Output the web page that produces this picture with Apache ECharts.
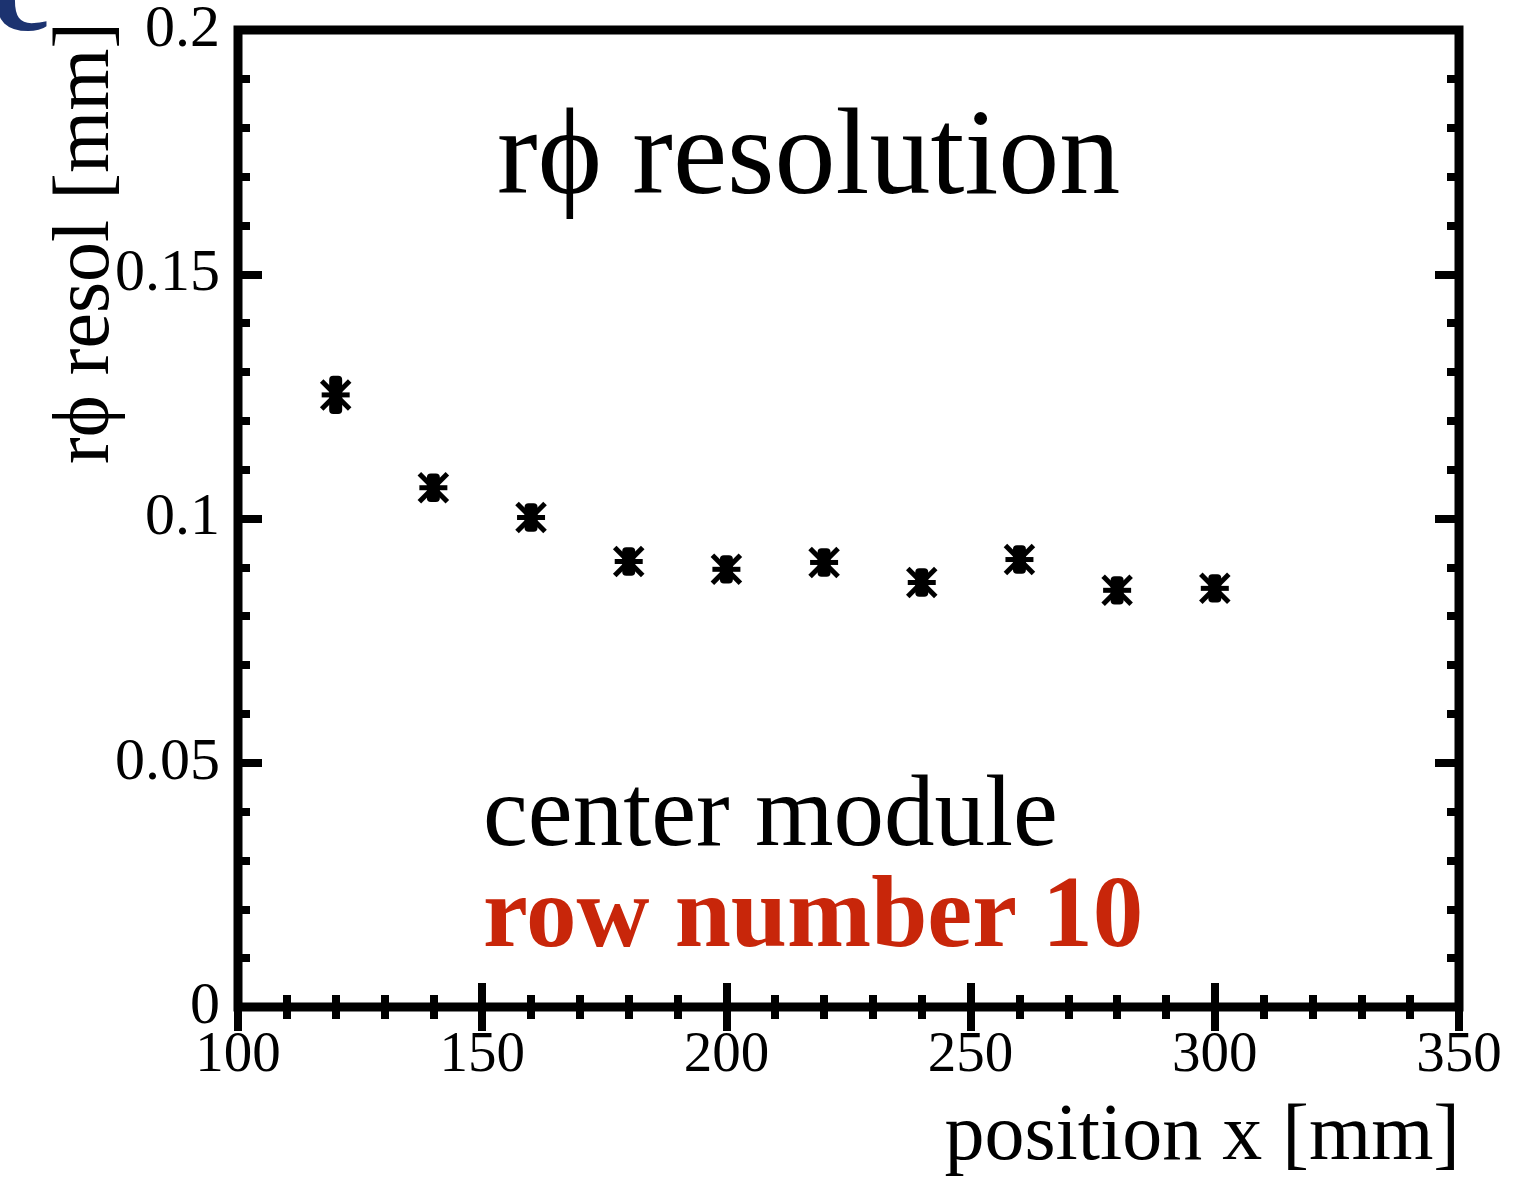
<!DOCTYPE html>
<html lang="en">
<head>
    <meta charset="UTF-8">
    <title>r-phi resolution</title>
</head>
<body style="margin:0;background:#fff">
<div id='main' style="height: 1181px;width: 1536px"></div>
<script src="https://cdn.jsdelivr.net/npm/echarts@6/dist/echarts.min.js"></script>
<script>
    // positions along x [mm]
    var xPos = [120, 140, 160, 180, 200, 220, 240, 260, 280, 300];
    // r-phi resolution [mm]
    var resol = [0.1253, 0.1063, 0.1002, 0.0912, 0.0896, 0.0910, 0.0869, 0.0916, 0.0853, 0.0857];
    var resolErr = [0.0039, 0.0029, 0.0029, 0.0029, 0.0029, 0.0029, 0.0029, 0.0029, 0.0029, 0.0029];
    var xTicks = [100, 150, 200, 250, 300, 350];
    var yTicks = [0, 0.05, 0.1, 0.15, 0.2];

    var serif = 'Liberation Serif';
    var myChart = echarts.init(document.getElementById('main'));

    var pts = [];
    for (var i = 0; i < xPos.length; i++) {
        pts.push([xPos[i], resol[i], resolErr[i]]);
    }

    // asterisk marker with a thick vertical error bar
    function star(params, api) {
        var c = api.coord([api.value(0), api.value(1)]);
        var top = api.coord([api.value(0), api.value(1) + api.value(2)]);
        var half = Math.max(c[1] - top[1], 14);
        var s = 14;
        var st = {stroke: '#000', lineWidth: 5};
        return {
            type: 'group',
            children: [
                {type: 'rect', shape: {x: c[0] - 6.5, y: c[1] - half, width: 13, height: half * 2, r: 4}, style: {fill: '#000'}},
                {type: 'line', shape: {x1: c[0] - s, y1: c[1], x2: c[0] + s, y2: c[1]}, style: st},
                {type: 'line', shape: {x1: c[0] - s, y1: c[1] - s, x2: c[0] + s, y2: c[1] + s}, style: st},
                {type: 'line', shape: {x1: c[0] - s, y1: c[1] + s, x2: c[0] + s, y2: c[1] - s}, style: st}
            ]
        };
    }

    function xAx(pos, showLabel) {
        return {
            type: 'value', position: pos, min: xTicks[0], max: xTicks[xTicks.length - 1], interval: 50,
            axisLine: {show: false},
            axisTick: {show: true, inside: true, length: 24, lineStyle: {color: '#000', width: 8}},
            minorTick: {show: true, splitNumber: 5, length: 12, lineStyle: {color: '#000', width: 8}},
            splitLine: {show: false},
            axisLabel: {show: showLabel, margin: 21, color: '#000', fontFamily: serif, fontSize: 57}
        };
    }

    function yAx(pos, showLabel) {
        return {
            type: 'value', position: pos, min: yTicks[0], max: yTicks[yTicks.length - 1], interval: 0.05,
            axisLine: {show: false},
            axisTick: {show: true, inside: true, length: 24, lineStyle: {color: '#000', width: 8}},
            minorTick: {show: true, splitNumber: 5, length: 12, lineStyle: {color: '#000', width: 8}},
            splitLine: {show: false},
            axisLabel: {show: showLabel, margin: 18, color: '#000', fontFamily: serif, fontSize: 60}
        };
    }

    var option = {
        animation: false,
        backgroundColor: '#fff',
        grid: {left: 238, top: 27, width: 1221, height: 980, show: true, borderWidth: 9, borderColor: '#000'},
        xAxis: [xAx('bottom', true), xAx('top', false)],
        yAxis: [yAx('left', true), yAx('right', false)],
        series: [{
            type: 'custom',
            renderItem: star,
            data: pts,
            encode: {x: 0, y: 1},
            z: 5
        }],
        graphic: [
            {type: 'text', left: -8, top: -69, style: {text: 'c', font: 'bold 130px ' + serif, fill: '#1c3370'}},
            {type: 'text', x: 497, y: 161, style: {text: 'r\u03D5 resolution', font: '122px ' + serif, fill: '#000', verticalAlign: 'middle'}},
            {type: 'text', x: 483, y: 818, style: {text: 'center module', font: '101px ' + serif, fill: '#000', verticalAlign: 'middle'}},
            {type: 'text', x: 483, y: 920, style: {text: 'row number 10', font: 'bold 101px ' + serif, fill: '#c8260a', verticalAlign: 'middle'}},
            {type: 'text', x: 1460, y: 1138, style: {text: 'position x [mm]', font: '80px ' + serif, fill: '#000', align: 'right', verticalAlign: 'middle'}},
            {type: 'text', x: 87, y: 22, rotation: Math.PI / 2, style: {text: 'r\u03D5 resol [mm]', font: '80px ' + serif, fill: '#000', align: 'right', verticalAlign: 'middle'}}
        ]
    };
    myChart.setOption(option);
</script>
</body>
</html>
